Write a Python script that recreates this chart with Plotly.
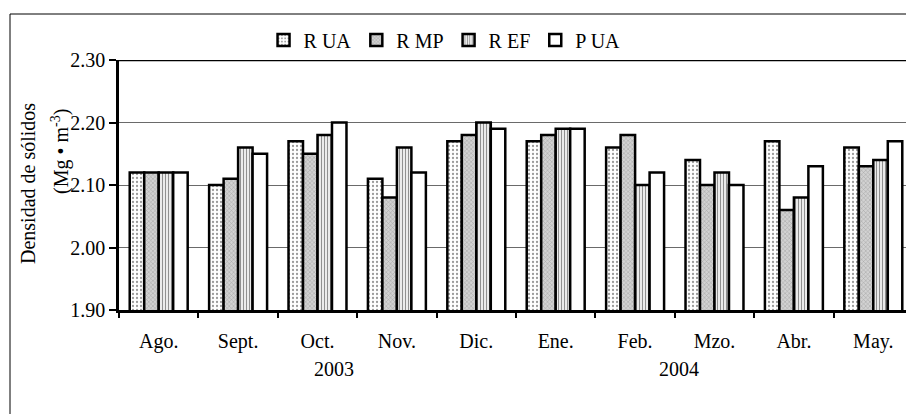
import plotly.graph_objects as go

months = ["Ago.", "Sept.", "Oct.", "Nov.", "Dic.", "Ene.", "Feb.", "Mzo.", "Abr.", "May."]
r_ua = [2.12, 2.10, 2.17, 2.11, 2.17, 2.17, 2.16, 2.14, 2.17, 2.16]
r_mp = [2.12, 2.11, 2.15, 2.08, 2.18, 2.18, 2.18, 2.10, 2.06, 2.13]
r_ef = [2.12, 2.16, 2.18, 2.16, 2.20, 2.19, 2.10, 2.12, 2.08, 2.14]
p_ua = [2.12, 2.15, 2.20, 2.12, 2.19, 2.19, 2.12, 2.10, 2.13, 2.17]
series_names = ["R UA", "R MP", "R EF", "P UA"]
years = ["2003", "2004"]
year_pos = [2.21, 6.55]

FONT = "'Liberation Serif', 'Times New Roman', serif"

# page has an 8px body margin: figure is sized/offset to compensate
W, H = 906, 406
L, R, T, B = 111, 1, 52, 104
PW = W - L - R
PH = H - T - B

styles = [
    dict(color="white", pattern=dict(shape=".", size=4, solidity=0.25, fgcolor="#9a9a9a", bgcolor="white", fillmode="replace")),
    dict(color="#c8c8c8", pattern=dict(shape="x", size=3, solidity=0.3, fgcolor="#a0a0a0", bgcolor="#d2d2d2", fillmode="replace")),
    dict(color="#d0d0d0", pattern=dict(shape="|", size=3, solidity=0.45, fgcolor="#909090", bgcolor="white", fillmode="replace")),
    dict(color="white"),
]

fig = go.Figure()
for name, vals, st in zip(series_names, [r_ua, r_mp, r_ef, p_ua], styles):
    m = dict(st)
    m["line"] = dict(color="black", width=2.5)
    fig.add_trace(go.Bar(x=months, y=vals, name=name, marker=m))

fig.update_layout(
    width=W, height=H,
    margin=dict(l=L, r=R, t=T, b=B),
    paper_bgcolor="white", plot_bgcolor="white",
    barmode="group", bargap=0.27, bargroupgap=0,
    font=dict(family=FONT, size=20, color="black"),
    showlegend=True,
    legend=dict(orientation="h", x=0.41, xanchor="center", y=1.08, yanchor="middle",
                font=dict(family=FONT, size=20, color="black"),
                itemwidth=30, tracegroupgap=0, bgcolor="rgba(0,0,0,0)"),
    xaxis=dict(type="category", tickson="boundaries", ticks="outside", ticklen=5,
               tickcolor="black", tickwidth=1.5, showline=True, linecolor="black", linewidth=2.5,
               showgrid=False, ticklabelstandoff=11,
               tickfont=dict(family=FONT, size=20, color="black")),
    yaxis=dict(range=[1.9, 2.3], dtick=0.1, tickformat=".2f", ticks="outside", ticklen=7,
               tickcolor="black", tickwidth=1.5, showline=True, linecolor="black", linewidth=2.5,
               showgrid=True, gridcolor="#6a6a6a", gridwidth=1.2, zeroline=False,
               tickfont=dict(family=FONT, size=20, color="black")),
)

# plot border: top thick, right thin gray
fig.add_shape(type="line", xref="paper", yref="y", x0=0, x1=1, y0=2.3, y1=2.3,
              line=dict(color="black", width=2.5), layer="above")
fig.add_shape(type="line", xref="paper", yref="paper", x0=1, x1=1, y0=0, y1=1,
              line=dict(color="#777777", width=1), layer="above")
# outer chart frame (partially cropped)
fig.add_shape(type="rect", xref="paper", yref="paper",
              x0=(2 - L) / PW, x1=1.05, y0=-0.5, y1=1 + (T - 6) / PH,
              line=dict(color="black", width=1), fillcolor="rgba(0,0,0,0)", layer="below")

# year labels
for yr, pos in zip(years, year_pos):
    fig.add_annotation(x=pos, y=-(369 - 310) / PH, xref="x", yref="paper", text=yr,
                       showarrow=False, font=dict(family=FONT, size=20, color="black"),
                       xanchor="center", yanchor="middle")

# y-axis title (two lines)
fig.add_annotation(x=(28 - 119) / PW, y=(310 - 184) / PH, xref="paper", yref="paper",
                   text="Densidad de sólidos", textangle=-90, showarrow=False,
                   font=dict(family=FONT, size=20, color="black"), xanchor="center", yanchor="middle")
fig.add_annotation(x=(60 - 119) / PW, y=(310 - 152) / PH, xref="paper", yref="paper",
                   text="(Mg • m<sup>-3</sup>)", textangle=-90, showarrow=False,
                   font=dict(family=FONT, size=20, color="black"), xanchor="center", yanchor="middle")

fig.write_html("out.html")
